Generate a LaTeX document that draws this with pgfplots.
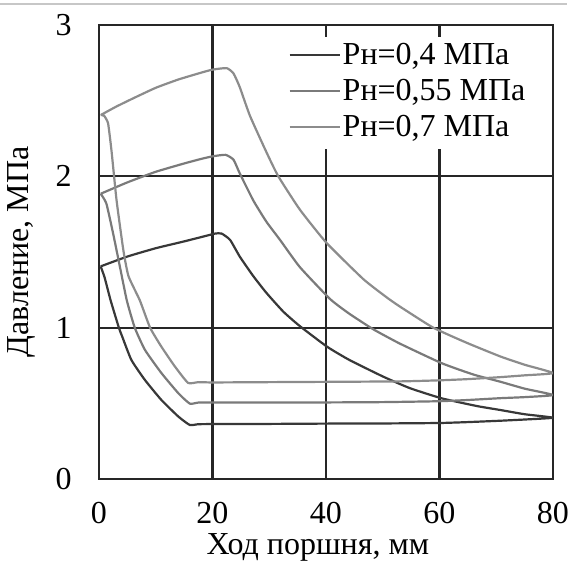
\documentclass[border=0pt]{standalone}
\usepackage{fontspec}
\setmainfont{Liberation Serif}
\usepackage{pgfplots}
\pgfplotsset{compat=1.18}
\begin{document}
\begin{tikzpicture}
\useasboundingbox (-49.5pt,-41pt) rectangle (237pt,239.5pt);
\draw[black!22, line width=0.7pt] (-49.5pt,237.5pt) -- (234pt,237.5pt);
\begin{axis}[
 at={(0pt,0pt)}, anchor=south west,
 width=227pt, height=227pt, scale only axis,
 xmin=0, xmax=80, ymin=0, ymax=3,
 xtick={0,20,40,60,80}, ytick={0,1,2,3},
 grid=major, major grid style={black!85, line width=1.1pt},
 axis line style={black!85, line width=1.1pt},
 major tick length=0pt,
 tick label style={font=\fontsize{16}{19}\selectfont},
 /pgf/number format/assume math mode=true,
 xticklabel style={inner sep=0pt, yshift=-11.5pt},
 yticklabel style={inner sep=0pt, xshift=-13.5pt},
 xlabel={Ход поршня, мм}, ylabel={Давление, МПа},
 label style={font=\fontsize{16}{19}\selectfont},
 xlabel style={at={(axis description cs:0.482,-0.15)}, anchor=center},
 ylabel style={at={(axis description cs:-0.17,0.5)}, anchor=center},
 legend style={at={(0.41,0.975)}, anchor=north west, draw=none, fill=white,
   inner sep=1.5pt, font=\fontsize{16}{19}\selectfont, row sep=1pt,
   nodes={inner sep=1pt, text height=11.5pt, text depth=3.5pt}},
 legend image code/.code={\draw[#1] (0pt,1pt) -- (25pt,1pt);},
 legend cell align=left,
 every axis plot/.append style={line width=1.1pt, line join=round, smooth, tension=0.3},
]
\addplot[black!78] coordinates {
(0.3,1.405)(5,1.47)(10,1.525)(15,1.57)(19,1.608)(20.5,1.622)(21.6,1.622)(23.1,1.58)(24.8,1.47)(27.2,1.34)(29.5,1.23)(32.5,1.105)(35.4,1.01)(40.2,0.874)(44.1,0.787)(50.1,0.676)(54.8,0.60)(60.4,0.533)(66.6,0.482)(70.7,0.456)(75,0.428)(80,0.405)
(75,0.393)(70.7,0.385)(65,0.376)(60,0.37)(50,0.367)(40,0.366)(30,0.364)(20,0.363)(17.5,0.362)(16,0.357)(14,0.412)(11,0.522)(8.1,0.654)(5.7,0.787)(4,0.95)(3.5,1.0)(2.05,1.18)(1,1.33)(0.3,1.405)
};
\addlegendentry{Рн=0,4 МПа}
\addplot[black!52] coordinates {
(0.3,1.885)(5,1.96)(10,2.03)(15,2.085)(18,2.115)(20,2.132)(22.3,2.142)(23.7,2.11)(24.8,2.02)(27.2,1.84)(29.5,1.70)(31.9,1.58)(35.4,1.40)(40.7,1.19)(44,1.095)(48.3,0.99)(53,0.895)(60.4,0.765)(66,0.69)(70.7,0.643)(75,0.597)(80,0.555)
(75,0.541)(70.7,0.534)(65,0.522)(60,0.514)(50,0.508)(40,0.506)(30,0.505)(20,0.505)(17.5,0.505)(16,0.498)(14,0.566)(11,0.70)(8.1,0.853)(6.3,1.0)(4.9,1.18)(3.7,1.40)(2.5,1.62)(1.3,1.82)(0.3,1.885)
};
\addlegendentry{Рн=0,55 МПа}
\addplot[black!45] coordinates {
(0.3,2.405)(3,2.46)(6,2.515)(10,2.585)(14,2.64)(18,2.685)(20,2.705)(22.5,2.715)(23.7,2.68)(24.8,2.59)(26.6,2.40)(29.5,2.16)(31.6,2.0)(35.4,1.78)(40.1,1.56)(46.6,1.32)(50.7,1.20)(53,1.14)(58.9,1.0)(64.8,0.90)(70.7,0.81)(75,0.755)(80,0.70)
(75,0.685)(70.7,0.673)(65,0.66)(60,0.652)(53,0.645)(40,0.642)(30,0.64)(20,0.638)(17.5,0.64)(15.7,0.635)(13.4,0.742)(11,0.874)(9,1.0)(7.2,1.18)(5.2,1.34)(4.3,1.51)(3.1,1.84)(2.2,2.17)(1.6,2.35)(0.9,2.40)(0.3,2.405)
};
\addlegendentry{Рн=0,7 МПа}
\end{axis}
\end{tikzpicture}
\end{document}
